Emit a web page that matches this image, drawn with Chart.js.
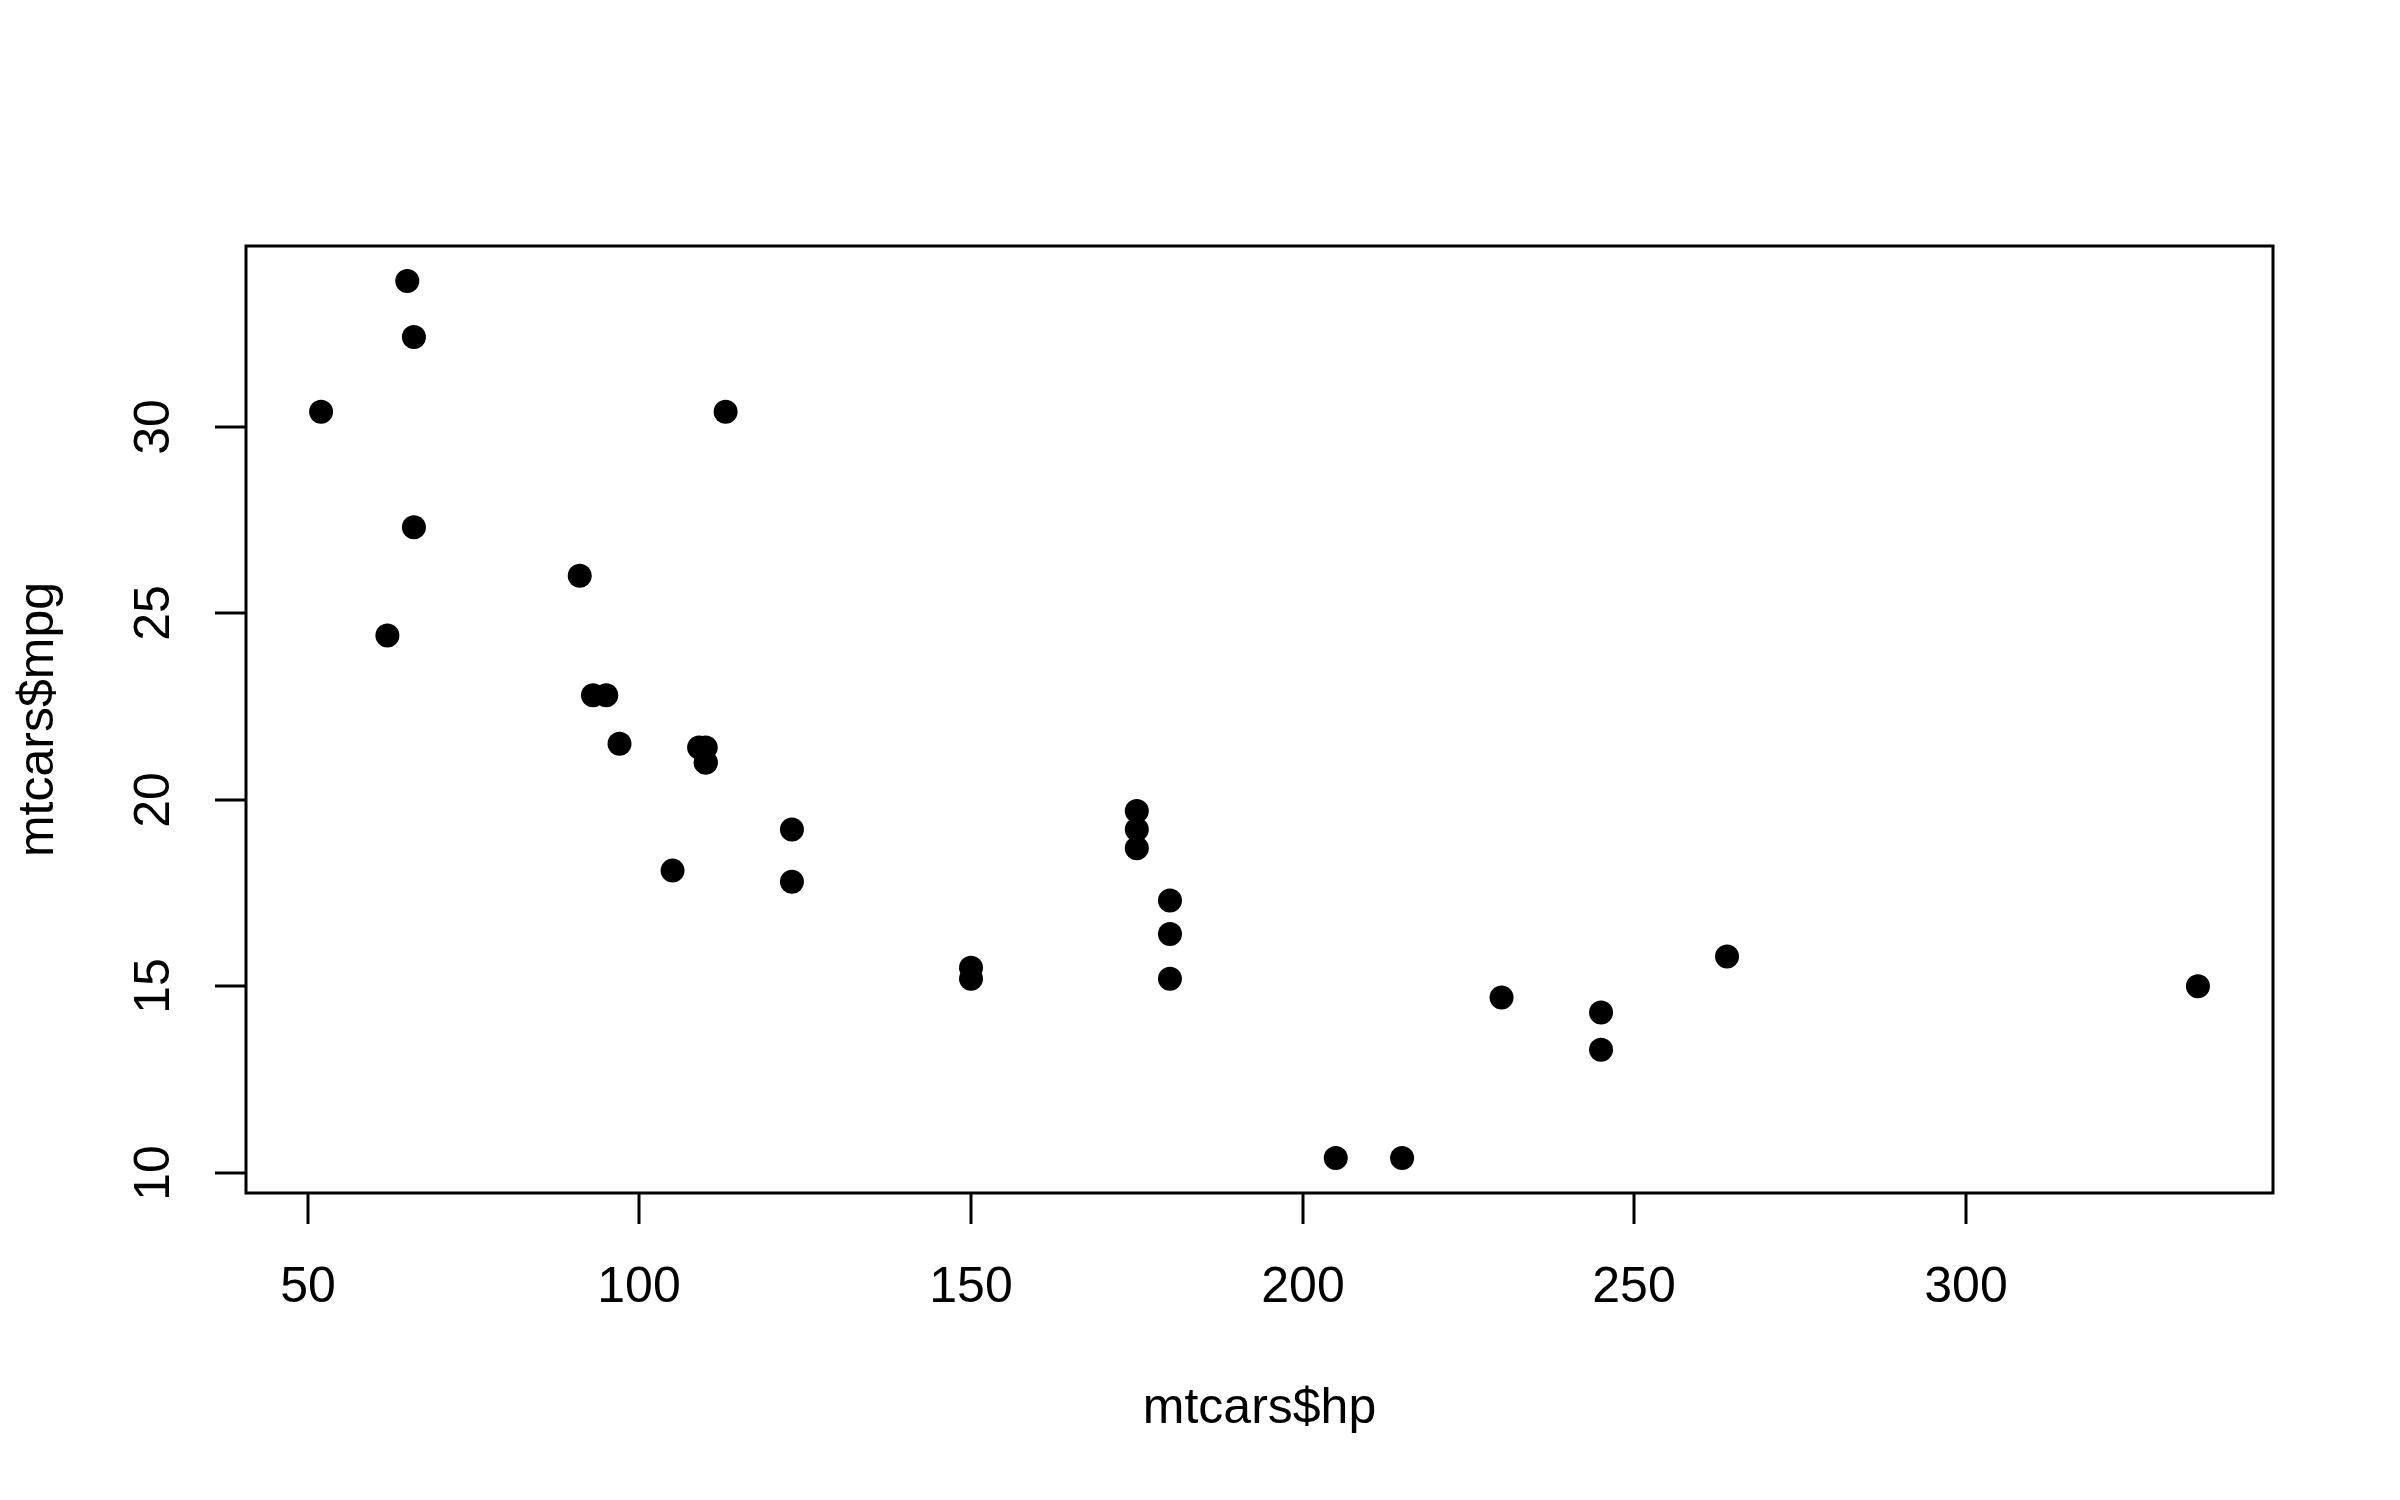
<!DOCTYPE html>
<html>
<head>
<meta charset="utf-8">
<script src="https://cdn.jsdelivr.net/npm/chart.js@4.4.1/dist/chart.umd.min.js"></script>
<style>
html,body{margin:0;padding:0;background:#fff;}
#wrap{width:2400px;height:1500px;position:relative;}
</style>
</head>
<body>
<div id="wrap"><canvas id="c" width="2400" height="1500"></canvas></div>
<script>
const hp = [110,110,93,110,175,105,245,62,95,123,123,180,180,180,205,215,230,66,52,65,97,150,150,245,175,66,91,113,264,175,335,109];
const mpg = [21,21,22.8,21.4,18.7,18.1,14.3,24.4,22.8,19.2,17.8,16.4,17.3,15.2,10.4,10.4,14.7,32.4,30.4,33.9,21.5,15.5,15.2,13.3,19.2,27.3,26,30.4,15.8,19.7,15,21.4];
const xTicks = [50,100,150,200,250,300];
const yTicks = [10,15,20,25,30];
const xTitle = 'mtcars$hp';
const yTitle = 'mtcars$mpg';

const FONT = '"Liberation Sans", Arial, sans-serif';

const rAxes = {
  id: 'rAxes',
  afterDraw(chart) {
    const ctx = chart.ctx;
    const a = chart.chartArea;
    const xs = chart.scales.x, ys = chart.scales.y;
    ctx.save();
    ctx.strokeStyle = '#000';
    ctx.lineWidth = 3;
    ctx.strokeRect(a.left, a.top, a.right - a.left, a.bottom - a.top);
    ctx.fillStyle = '#000';
    ctx.font = '50px ' + FONT;
    ctx.textAlign = 'center';
    ctx.textBaseline = 'middle';
    xTicks.forEach(v => {
      const px = Math.round(xs.getPixelForValue(v));
      ctx.beginPath();
      ctx.moveTo(px, a.bottom);
      ctx.lineTo(px, a.bottom + 31);
      ctx.stroke();
      ctx.fillText(String(v), px, 1288);
    });
    yTicks.forEach(v => {
      const py = Math.round(ys.getPixelForValue(v));
      ctx.beginPath();
      ctx.moveTo(a.left, py);
      ctx.lineTo(a.left - 31, py);
      ctx.stroke();
      ctx.save();
      ctx.translate(155, py);
      ctx.rotate(-Math.PI / 2);
      ctx.fillText(String(v), 0, 0);
      ctx.restore();
    });
    ctx.fillText(xTitle, (a.left + a.right) / 2, 1409);
    ctx.save();
    ctx.translate(39, (a.top + a.bottom) / 2);
    ctx.rotate(-Math.PI / 2);
    ctx.fillText(yTitle, 0, 0);
    ctx.restore();
    ctx.restore();
  }
};

new Chart(document.getElementById('c'), {
  type: 'scatter',
  data: {
    datasets: [{
      data: hp.map((h, i) => ({x: h, y: mpg[i]})),
      backgroundColor: '#000',
      borderColor: '#000',
      borderWidth: 0,
      pointRadius: 12,
      pointHoverRadius: 12
    }]
  },
  options: {
    responsive: false,
    animation: false,
    events: [],
    layout: { padding: { left: 246, top: 246, right: 127, bottom: 307 } },
    plugins: { legend: { display: false }, tooltip: { enabled: false } },
    scales: {
      x: { type: 'linear', display: false, min: 40.68, max: 346.32 },
      y: { type: 'linear', display: false, min: 9.46, max: 34.84 }
    }
  },
  plugins: [rAxes]
});
</script>
</body>
</html>
